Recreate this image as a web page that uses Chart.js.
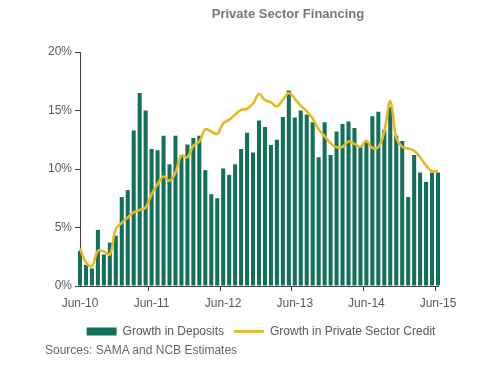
<!DOCTYPE html>
<html>
<head>
<meta charset="utf-8">
<script src="https://cdn.jsdelivr.net/npm/chart.js@4"></script>
<style>
  body { margin: 0; background: #fff; }
  #wrap { position: relative; width: 500px; height: 375px; font-family: "Liberation Sans", Arial, sans-serif; }
  #title { position: absolute; left: 0; top: 6px; width: 576px; text-align: center; font-weight: bold; font-size: 13px; line-height: 16px; color: #777; }
  #source { position: absolute; left: 45px; top: 342px; font-size: 12px; line-height: 16px; color: #666; }
  canvas { position: absolute; left: 0; top: 0; }
</style>
</head>
<body>
<div id="wrap">
  <canvas id="chart" width="500" height="375"></canvas>
  <div id="title">Private Sector Financing</div>
  <div id="source">Sources: SAMA and NCB Estimates</div>
</div>
<script>
// monthly, Jun-10 .. Jun-15
const months = [
  'Jun-10', 'Jul-10', 'Aug-10', 'Sep-10', 'Oct-10', 'Nov-10', 'Dec-10', 'Jan-11', 'Feb-11', 'Mar-11', 'Apr-11', 'May-11',
  'Jun-11', 'Jul-11', 'Aug-11', 'Sep-11', 'Oct-11', 'Nov-11', 'Dec-11', 'Jan-12', 'Feb-12', 'Mar-12', 'Apr-12', 'May-12',
  'Jun-12', 'Jul-12', 'Aug-12', 'Sep-12', 'Oct-12', 'Nov-12', 'Dec-12', 'Jan-13', 'Feb-13', 'Mar-13', 'Apr-13', 'May-13',
  'Jun-13', 'Jul-13', 'Aug-13', 'Sep-13', 'Oct-13', 'Nov-13', 'Dec-13', 'Jan-14', 'Feb-14', 'Mar-14', 'Apr-14', 'May-14',
  'Jun-14', 'Jul-14', 'Aug-14', 'Sep-14', 'Oct-14', 'Nov-14', 'Dec-14', 'Jan-15', 'Feb-15', 'Mar-15', 'Apr-15', 'May-15',
  'Jun-15'
];

// Growth in Deposits (%)
const deposits = [
  3.0, 1.8, 1.5, 4.8, 2.7, 3.7, 4.3, 7.6, 8.2, 13.3, 16.5, 15.0,
  11.7, 11.6, 12.85, 10.4, 12.85, 11.2, 12.1, 12.65, 12.85, 9.9, 7.85, 7.5,
  10.05, 9.5, 10.4, 11.7, 13.1, 11.4, 14.15, 13.6, 12.05, 12.5, 14.45, 16.7,
  14.4, 15.0, 14.65, 14.0, 11.0, 14.0, 11.2, 13.2, 13.85, 14.05, 13.5, 11.9,
  12.4, 14.5, 14.9, 13.35, 15.3, 12.85, 12.4, 7.6, 11.2, 9.7, 8.9, 9.7,
  9.7
];

// Growth in Private Sector Credit (%)
const credit = [
  3.2, 2.0, 1.7, 3.0, 2.95, 2.7, 4.85, 5.4, 5.85, 6.3, 6.5, 6.7,
  7.85, 8.7, 9.35, 9.0, 9.7, 11.15, 11.0, 12.0, 12.35, 13.4, 13.2, 13.0,
  13.9, 14.2, 14.65, 15.05, 15.15, 15.6, 16.4, 15.9, 15.7, 15.35, 15.9, 16.5,
  16.0, 15.4, 14.95, 14.3, 13.4, 12.8, 12.2, 11.85, 11.9, 12.35, 12.15, 11.9,
  12.4, 11.8, 11.85, 13.2, 15.8, 12.7, 11.9, 11.75, 11.55, 11.0, 10.3, 9.8,
  9.85
];

const yTicks = [0, 5, 10, 15, 20];

const textColor = '#595959';
const axisColor = '#444';
const font = { family: '"Liberation Sans", Arial, sans-serif', size: 12 };

const ctx = document.getElementById('chart').getContext('2d');
new Chart(ctx, {
  data: {
    labels: months,
    datasets: [
      {
        type: 'bar',
        label: 'Growth in Deposits',
        data: deposits,
        backgroundColor: '#13705a',
        borderWidth: 0,
        categoryPercentage: 1,
        barPercentage: 0.68,
        order: 1,
        clip: false
      },
      {
        type: 'line',
        label: 'Growth in Private Sector Credit',
        data: credit,
        borderColor: '#e6b822',
        backgroundColor: '#e6b822',
        borderWidth: 2.6,
        pointRadius: 0,
        tension: 0.4,
        order: 0
      }
    ]
  },
  options: {
    responsive: false,
    animation: false,
    layout: { padding: { top: 52, right: 0, left: 22, bottom: 27.6 } },
    scales: {
      x: {
        offset: false,
        grid: {
          drawOnChartArea: false,
          drawTicks: true,
          tickLength: 5,
          color: (c) => (c.index % 12 === 0 ? axisColor : 'rgba(0,0,0,0)')
        },
        border: { display: true, color: axisColor },
        ticks: {
          autoSkip: false,
          maxRotation: 0,
          color: textColor,
          font: font,
          padding: 5,
          callback: function (value, index) {
            return index % 12 === 0 ? months[index] : '';
          }
        }
      },
      y: {
        min: 0,
        max: 20,
        afterFit: function (scale) { scale.width = 58; },
        afterBuildTicks: function (scale) {
          scale.ticks = yTicks.map(v => ({ value: v }));
        },
        grid: { drawOnChartArea: false, drawTicks: true, tickLength: 5, color: axisColor },
        border: { display: true, color: axisColor },
        ticks: {
          color: textColor,
          font: font,
          padding: 3,
          callback: v => v + '%'
        }
      },
      // empty right-hand space so the legend centres like the original
      spacer: {
        type: 'linear',
        position: 'right',
        afterFit: function (scale) { scale.width = 62; },
        grid: { display: false },
        border: { display: false },
        ticks: { display: false }
      }
    },
    plugins: {
      legend: {
        position: 'bottom',
        labels: {
          usePointStyle: true,
          pointStyleWidth: 30,
          boxHeight: 8,
          padding: 10,
          color: textColor,
          font: font,
          sort: (a, b) => a.datasetIndex - b.datasetIndex,
          generateLabels: function (chart) {
            const items = Chart.defaults.plugins.legend.labels.generateLabels(chart);
            items.forEach(it => {
              it.pointStyle = it.datasetIndex === 0 ? 'rect' : 'line';
              it.lineWidth = it.datasetIndex === 0 ? 0 : 2.6;
            });
            return items;
          }
        }
      },
      tooltip: { enabled: false }
    }
  }
});
</script>
</body>
</html>
